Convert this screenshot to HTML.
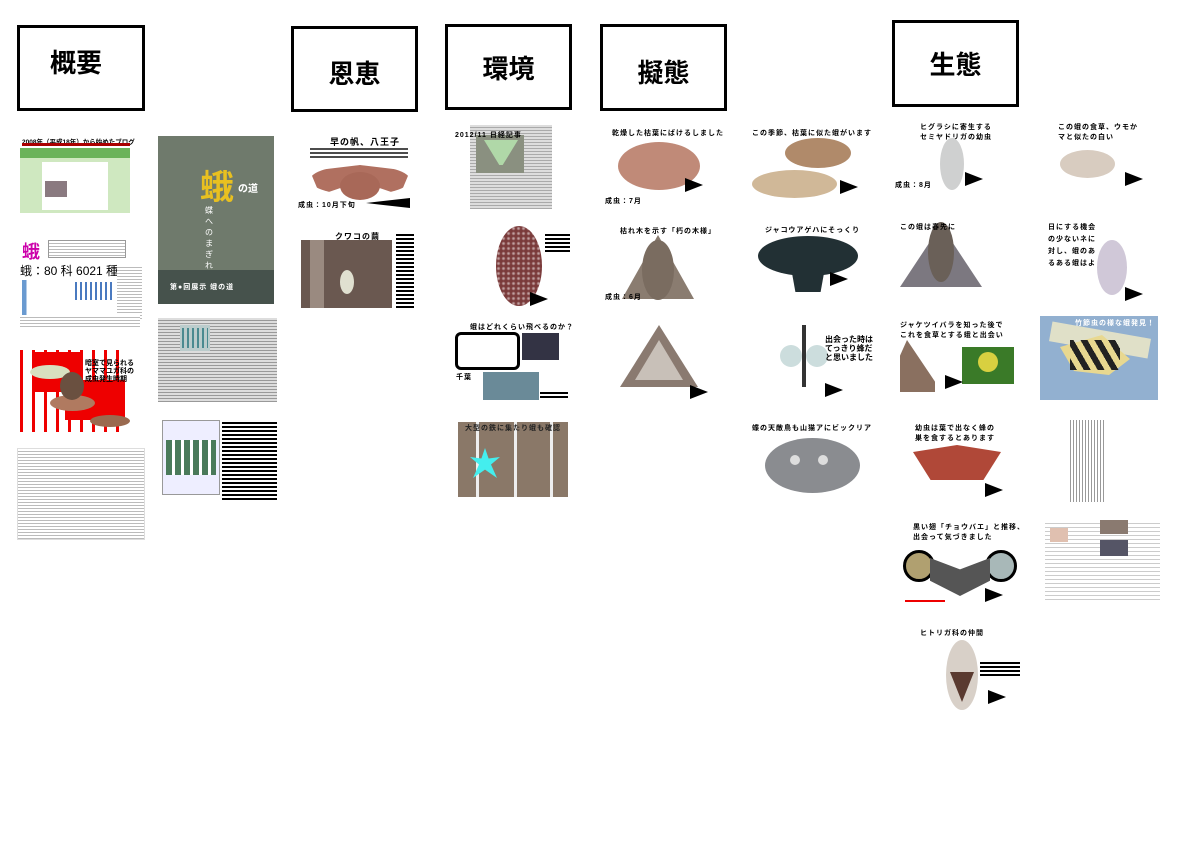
<!DOCTYPE html>
<html><head><meta charset="utf-8">
<style>
body{margin:0;width:1190px;height:841px;background:#fff;position:relative;overflow:hidden;font-family:"Liberation Sans","Noto Sans CJK JP",sans-serif}
div{position:absolute;box-sizing:border-box}
.h{border:3px solid #000;background:#fff;font-weight:bold;font-size:26px;display:flex;align-items:center;justify-content:center}
.t{font-size:7px;font-weight:bold;color:#000;white-space:nowrap;letter-spacing:1px}
.m{border-radius:50%}
.ar{width:0;height:0;border-top:7px solid transparent;border-bottom:7px solid transparent;border-left:18px solid #000}
.tx{background:repeating-linear-gradient(#fff 0 2px,#bbb 2px 3px)}
.bl{background:repeating-linear-gradient(#fff 0 2px,#000 2px 4px)}
</style></head><body>
<div class="h" style="left:17px;top:25px;width:128px;height:86px;padding:0 10px 14px 0">概要</div>
<div class="h" style="left:291px;top:26px;width:127px;height:86px;padding:6px 0 0 0">恩恵</div>
<div class="h" style="left:445px;top:24px;width:127px;height:86px;padding:0 0 0 0">環境</div>
<div class="h" style="left:600px;top:24px;width:127px;height:87px;padding:8px 0 0 0">擬態</div>
<div class="h" style="left:892px;top:20px;width:127px;height:87px;padding:0 0 0 0">生態</div>

<div class="t" style="left:22px;top:136px;letter-spacing:0;font-size:6.5px">2008年（平成18年）から始めたブログ</div>
<div style="left:22px;top:143px;width:108px;height:3px;background:#a00"></div>
<div style="left:20px;top:148px;width:110px;height:65px;background:#cfe8c0"></div>
<div style="left:20px;top:148px;width:110px;height:10px;background:#6bb35a"></div>
<div style="left:42px;top:162px;width:66px;height:48px;background:#fff"></div>
<div style="left:45px;top:181px;width:22px;height:16px;background:#8a7a80"></div>

<div style="left:22px;top:238px;color:#c0a;font-size:18px;font-weight:bold">蛾</div>
<div class="tx" style="left:48px;top:240px;width:78px;height:18px;border:1px solid #999"></div>
<div style="left:20px;top:262px;font-size:12px">蛾：80 科 6021 種</div>
<div style="left:22px;top:280px;width:90px;height:40px;background:linear-gradient(90deg,#6a9ad0 0 5%,#fff 5% 100%)"></div>
<div style="left:75px;top:282px;width:40px;height:18px;background:repeating-linear-gradient(90deg,#4a7ac0 0 2px,#fff 2px 5px)"></div>
<div class="tx" style="left:117px;top:265px;width:25px;height:55px"></div>
<div class="tx" style="left:20px;top:315px;width:120px;height:12px"></div>

<div style="left:20px;top:350px;width:105px;height:82px;background:repeating-linear-gradient(90deg,#e00 0 3px,#fff 3px 12px)"></div>
<div style="left:35px;top:352px;width:45px;height:40px;background:#e00"></div>
<div style="left:65px;top:380px;width:60px;height:40px;background:#e00"></div>
<div class="m" style="left:30px;top:365px;width:40px;height:14px;background:#d8e0c0"></div>
<div class="m" style="left:50px;top:395px;width:45px;height:16px;background:#b07a60"></div>
<div class="m" style="left:90px;top:415px;width:40px;height:12px;background:#9a6a50"></div>
<div class="m" style="left:60px;top:372px;width:24px;height:28px;background:#6a5040"></div>
<div style="left:85px;top:360px;font-size:7px;font-weight:bold;line-height:8px">暗室で見られる<br>ヤママユガ科の<br>成虫発生時期</div>

<div class="tx" style="left:17px;top:448px;width:128px;height:92px;border:1px solid #ddd"></div>

<div style="left:158px;top:136px;width:116px;height:168px;background:#6f7a6c"></div>
<div style="left:158px;top:270px;width:116px;height:34px;background:#46524c"></div>
<div style="left:200px;top:160px;color:#e8c020;font-size:34px;font-weight:bold">蛾</div>
<div style="left:238px;top:180px;color:#fff;font-size:10px;font-weight:bold">の道</div>
<div style="left:205px;top:205px;width:10px;height:50px;color:#fff;font-size:8px">蝶へのまぎれ</div>
<div class="t" style="left:170px;top:282px;color:#fff">第●回展示 蛾の道</div>

<div class="tx" style="left:158px;top:318px;width:119px;height:84px;background:repeating-linear-gradient(#ddd 0 2px,#999 2px 3px)"></div>
<div style="left:180px;top:325px;width:30px;height:26px;background:#bcc"></div>
<div style="left:182px;top:328px;width:26px;height:20px;background:repeating-linear-gradient(90deg,#4a8a90 0 2px,transparent 2px 5px)"></div>

<div style="left:162px;top:420px;width:58px;height:75px;border:1px solid #999;background:#eef"></div>
<div style="left:166px;top:440px;width:50px;height:35px;background:repeating-linear-gradient(90deg,#4a7a5a 0 6px,#fff 6px 9px)"></div>
<div class="bl" style="left:222px;top:420px;width:55px;height:80px"></div>

<div class="t" style="left:330px;top:135px;font-size:9px">早の帆、八王子</div>
<div class="bl" style="left:310px;top:146px;width:98px;height:14px;opacity:.7"></div>
<div class="m" style="left:310px;top:165px;width:100px;height:30px;background:#b07060;clip-path:polygon(0 20%,50% 0,100% 20%,90% 100%,55% 60%,45% 60%,10% 100%)"></div>
<div class="m" style="left:340px;top:172px;width:40px;height:28px;background:#a86858"></div>
<div style="left:366px;top:198px;width:44px;height:10px;background:#000;clip-path:polygon(0 50%,100% 0,100% 100%)"></div>
<div class="t" style="left:298px;top:200px">成虫：10月下旬</div>
<div class="t" style="left:335px;top:231px;font-size:8px">クワコの繭</div>
<div style="left:301px;top:240px;width:91px;height:68px;background:#6a5850"></div>
<div style="left:310px;top:240px;width:14px;height:68px;background:#9a8a80"></div>
<div class="m" style="left:340px;top:270px;width:14px;height:24px;background:#e0e0d0"></div>
<div class="bl" style="left:396px;top:232px;width:18px;height:76px"></div>

<div style="left:470px;top:125px;width:82px;height:84px;background:repeating-linear-gradient(#ddd 0 2px,#aaa 2px 3px)"></div>
<div style="left:476px;top:135px;width:48px;height:38px;background:#8a9080"></div>
<div style="left:484px;top:140px;width:34px;height:25px;background:#b0d8a8;clip-path:polygon(0 0,100% 0,55% 100%,45% 100%)"></div>
<div class="t" style="left:455px;top:130px">2012/11 日経記事</div>
<div class="m" style="left:496px;top:226px;width:46px;height:80px;background:radial-gradient(#c0a0a0 15%,#7a3a3a 60%);background-size:5px 5px;background-color:#7a3a3a"></div>
<div class="bl" style="left:545px;top:232px;width:25px;height:22px"></div>
<div class="ar" style="left:530px;top:292px"></div>
<div class="t" style="left:470px;top:322px">蛾はどれくらい飛べるのか？</div>
<div style="left:455px;top:332px;width:65px;height:38px;border:3px solid #000;border-radius:6px;background:#fff"></div>
<div style="left:522px;top:333px;width:37px;height:27px;background:#334"></div>
<div style="left:483px;top:372px;width:56px;height:28px;background:#6a8a98"></div>
<div class="t" style="left:456px;top:372px">千葉</div>
<div class="bl" style="left:540px;top:390px;width:28px;height:8px"></div>
<div style="left:458px;top:422px;width:110px;height:75px;background:#8a7868"></div>
<div style="left:476px;top:422px;width:3px;height:75px;background:#eee"></div>
<div style="left:514px;top:422px;width:3px;height:75px;background:#eee"></div>
<div style="left:550px;top:422px;width:3px;height:75px;background:#eee"></div>
<div style="left:470px;top:448px;width:30px;height:30px;background:#4ee;clip-path:polygon(50% 0,62% 35%,100% 30%,70% 55%,90% 100%,50% 72%,10% 100%,30% 55%,0 30%,38% 35%)"></div>
<div class="t" style="left:465px;top:423px;color:#222">大型の鉄に集たり蛾も確認</div>

<div class="t" style="left:612px;top:128px">乾燥した枯葉にばけるしました</div>
<div class="m" style="left:618px;top:142px;width:82px;height:48px;background:#c08a78"></div>
<div class="ar" style="left:685px;top:178px"></div>
<div class="t" style="left:605px;top:196px">成虫：7月</div>
<div class="t" style="left:620px;top:226px">枯れ木を示す「朽の木様」</div>
<div style="left:622px;top:235px;width:72px;height:64px;background:#8a7c70;clip-path:polygon(50% 0,100% 100%,0 100%)"></div>
<div class="m" style="left:642px;top:240px;width:32px;height:60px;background:#7a6c60"></div>
<div class="t" style="left:605px;top:292px">成虫：6月</div>
<div style="left:620px;top:325px;width:78px;height:62px;background:#8a7a70;clip-path:polygon(50% 0,100% 100%,0 100%)"></div>
<div style="left:635px;top:340px;width:48px;height:40px;background:#c8c0b8;clip-path:polygon(50% 0,100% 100%,0 100%)"></div>
<div class="ar" style="left:690px;top:385px"></div>

<div class="t" style="left:752px;top:128px">この季節、枯葉に似た蛾がいます</div>
<div class="m" style="left:785px;top:138px;width:66px;height:30px;background:#b08a6a"></div>
<div class="m" style="left:752px;top:170px;width:85px;height:28px;background:#d0b898"></div>
<div class="ar" style="left:840px;top:180px"></div>
<div class="t" style="left:765px;top:225px">ジャコウアゲハにそっくり</div>
<div class="m" style="left:758px;top:236px;width:100px;height:40px;background:#223034"></div>
<div style="left:790px;top:262px;width:36px;height:30px;background:#223034;clip-path:polygon(0 0,100% 0,85% 100%,15% 100%)"></div>
<div class="ar" style="left:830px;top:272px"></div>
<div style="left:802px;top:325px;width:4px;height:62px;background:#333"></div>
<div class="m" style="left:780px;top:345px;width:22px;height:22px;background:#cdd"></div>
<div class="m" style="left:806px;top:345px;width:22px;height:22px;background:#cdd"></div>
<div style="left:825px;top:335px;font-size:8px;font-weight:bold;line-height:9px">出会った時は<br>てっきり蜂だ<br>と思いました</div>
<div class="ar" style="left:825px;top:383px"></div>
<div class="t" style="left:752px;top:423px">蝶の天敵鳥も山猫アにビックリア</div>
<div class="m" style="left:765px;top:438px;width:95px;height:55px;background:#8a8c90"></div>
<div class="m" style="left:790px;top:455px;width:10px;height:10px;background:#ddd"></div>
<div class="m" style="left:818px;top:455px;width:10px;height:10px;background:#ddd"></div>

<div class="t" style="left:920px;top:122px">ヒグラシに寄生する<br>セミヤドリガの幼虫</div>
<div class="m" style="left:940px;top:138px;width:24px;height:52px;background:#cfd0d0"></div>
<div class="ar" style="left:965px;top:172px"></div>
<div class="t" style="left:895px;top:180px">成虫：8月</div>
<div style="left:900px;top:225px;width:82px;height:62px;background:#7c7880;clip-path:polygon(50% 0,100% 100%,0 100%)"></div>
<div class="m" style="left:928px;top:222px;width:26px;height:60px;background:#6a6058"></div>
<div class="t" style="left:900px;top:222px">この蛾は春先に</div>
<div class="t" style="left:900px;top:320px">ジャケツイバラを知った後で<br>これを食草とする蛾と出会い</div>
<div style="left:900px;top:340px;width:35px;height:52px;background:#8a7060;clip-path:polygon(20% 0,100% 80%,100% 100%,0 100%,0 30%)"></div>
<div style="left:962px;top:347px;width:52px;height:37px;background:#3a7a28"></div>
<div class="m" style="left:978px;top:352px;width:20px;height:20px;background:#d8d040"></div>
<div class="ar" style="left:945px;top:375px"></div>
<div class="t" style="left:915px;top:423px">幼虫は葉で出なく蜂の<br>巣を食するとあります</div>
<div style="left:913px;top:445px;width:88px;height:35px;background:#b04838;clip-path:polygon(0 20%,50% 0,100% 20%,80% 100%,20% 100%)"></div>
<div class="ar" style="left:985px;top:483px"></div>
<div class="t" style="left:913px;top:522px">黒い翅「チョウバエ」と推移、<br>出会って気づきました</div>
<div class="m" style="left:903px;top:550px;width:32px;height:32px;border:3px solid #000;background:#b0a070"></div>
<div class="m" style="left:985px;top:550px;width:32px;height:32px;border:3px solid #000;background:#a8b8b8"></div>
<div style="left:930px;top:558px;width:60px;height:38px;background:#555;clip-path:polygon(0 0,50% 30%,100% 0,100% 60%,50% 100%,0 60%)"></div>
<div class="ar" style="left:985px;top:588px"></div>
<div style="left:905px;top:600px;width:40px;height:2px;background:#e00"></div>
<div class="t" style="left:920px;top:628px">ヒトリガ科の仲間</div>
<div class="m" style="left:946px;top:640px;width:32px;height:70px;background:#d8d0c8"></div>
<div style="left:950px;top:672px;width:24px;height:30px;background:#5a3a30;clip-path:polygon(0 0,100% 0,50% 100%)"></div>
<div class="bl" style="left:980px;top:660px;width:40px;height:18px"></div>
<div class="ar" style="left:988px;top:690px"></div>

<div class="t" style="left:1058px;top:122px">この蛾の食草、ウモか<br>マと似たの白い</div>
<div class="m" style="left:1060px;top:150px;width:55px;height:28px;background:#d8ccc0"></div>
<div class="ar" style="left:1125px;top:172px"></div>
<div class="t" style="left:1048px;top:222px;line-height:12px">日にする機会<br>の少ないネに<br>対し、蛾のあ<br>るある蛾はよ</div>
<div class="m" style="left:1097px;top:240px;width:30px;height:55px;background:#d0c8d8"></div>
<div class="ar" style="left:1125px;top:287px"></div>
<div style="left:1040px;top:316px;width:118px;height:84px;background:#92b0d0"></div>
<div style="left:1050px;top:330px;width:100px;height:20px;background:#e0e0c8;transform:rotate(10deg)"></div>
<div style="left:1060px;top:335px;width:70px;height:40px;background:#e8d890;clip-path:polygon(0 30%,60% 0,100% 60%,70% 100%,20% 90%)"></div>
<div style="left:1070px;top:340px;width:50px;height:30px;background:repeating-linear-gradient(60deg,#222 0 6px,transparent 6px 12px)"></div>
<div class="t" style="left:1075px;top:318px;color:#fff">竹節虫の様な蛾発見！</div>
<div style="left:1068px;top:420px;width:38px;height:82px;background:repeating-linear-gradient(90deg,#fff 0 2px,#999 2px 3px)"></div>
<div style="left:1045px;top:520px;width:115px;height:80px;background:repeating-linear-gradient(#fff 0 3px,#ccc 3px 4px)"></div>
<div style="left:1100px;top:520px;width:28px;height:14px;background:#8a7a70"></div>
<div style="left:1100px;top:540px;width:28px;height:16px;background:#556"></div>
<div style="left:1050px;top:528px;width:18px;height:14px;background:#e0c0b0"></div>
</body></html>
